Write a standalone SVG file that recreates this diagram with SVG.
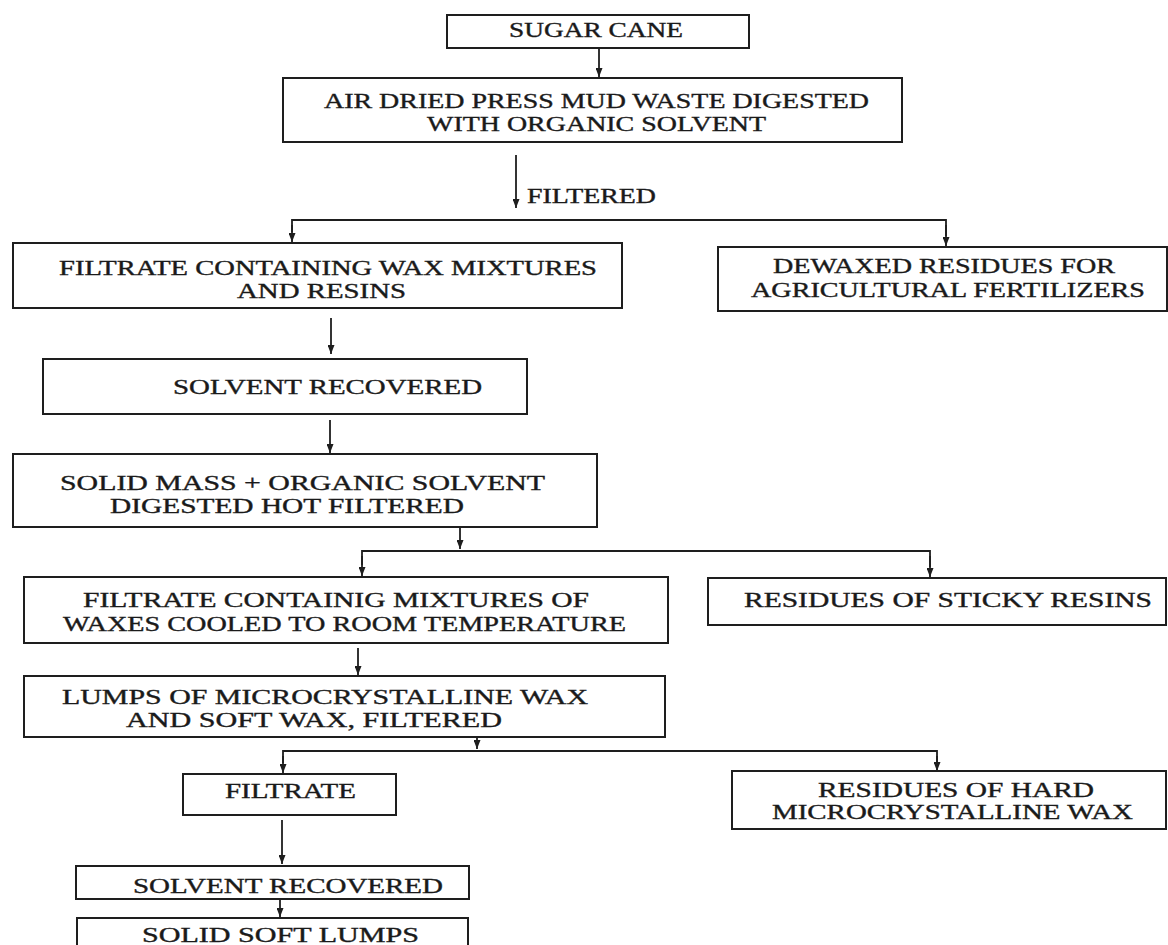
<svg xmlns="http://www.w3.org/2000/svg" width="1168" height="945" viewBox="0 0 1168 945">
<defs>
<style>
.box{fill:#fff;stroke:#1e1e1e;stroke-width:2}
.t{font-family:"Liberation Serif","Times New Roman",serif;font-size:20px;fill:#1a1a1a;stroke:#1a1a1a;stroke-width:0.35}
.c{stroke:#1e1e1e;stroke-width:1.8;fill:none}
</style>
<marker id="ah" markerUnits="userSpaceOnUse" viewBox="0 0 9 7" refX="9" refY="3.5" markerWidth="9" markerHeight="7" orient="auto">
<path d="M0,0 L9,3.5 L0,7 z" fill="#1e1e1e"/>
</marker>
</defs>
<rect width="1168" height="945" fill="#fff"/>

<g id="connectors">
<line class="c" x1="599" y1="49" x2="599" y2="77" marker-end="url(#ah)"/>
<line class="c" x1="516" y1="155" x2="516" y2="208" marker-end="url(#ah)"/>
<polyline class="c" points="292,232 292,220 946,220 946,236"/>
<line class="c" x1="292" y1="225" x2="292" y2="242" marker-end="url(#ah)"/>
<line class="c" x1="946" y1="225" x2="946" y2="246" marker-end="url(#ah)"/>
<line class="c" x1="331" y1="318" x2="331" y2="354" marker-end="url(#ah)"/>
<line class="c" x1="330" y1="420" x2="330" y2="453" marker-end="url(#ah)"/>
<line class="c" x1="460" y1="528" x2="460" y2="549" marker-end="url(#ah)"/>
<polyline class="c" points="362,565 362,551 930,551 930,567"/>
<line class="c" x1="362" y1="556" x2="362" y2="576" marker-end="url(#ah)"/>
<line class="c" x1="930" y1="556" x2="930" y2="577" marker-end="url(#ah)"/>
<line class="c" x1="358" y1="648" x2="358" y2="675" marker-end="url(#ah)"/>
<line class="c" x1="477" y1="738" x2="477" y2="749" marker-end="url(#ah)"/>
<polyline class="c" points="283,763 283,751 937,751 937,762"/>
<line class="c" x1="283" y1="756" x2="283" y2="773" marker-end="url(#ah)"/>
<line class="c" x1="937" y1="756" x2="937" y2="771" marker-end="url(#ah)"/>
<line class="c" x1="282" y1="820" x2="282" y2="864" marker-end="url(#ah)"/>
<line class="c" x1="280" y1="900" x2="280" y2="917" marker-end="url(#ah)"/>
<text class="t" x="527" y="203" textLength="129" lengthAdjust="spacingAndGlyphs">FILTERED</text>
</g>

<g id="n1">
<rect class="box" x="447" y="15" width="302" height="33"/>
<text class="t" x="509" y="37" textLength="174" lengthAdjust="spacingAndGlyphs">SUGAR CANE</text>
</g>

<g id="n2">
<rect class="box" x="283" y="78" width="619" height="64"/>
<text class="t" x="324" y="108" textLength="545" lengthAdjust="spacingAndGlyphs">AIR DRIED PRESS MUD WASTE DIGESTED</text>
<text class="t" x="427" y="131" textLength="339" lengthAdjust="spacingAndGlyphs">WITH ORGANIC SOLVENT</text>
</g>

<g id="n3">
<rect class="box" x="13" y="243" width="609" height="65"/>
<text class="t" x="59" y="275" textLength="538" lengthAdjust="spacingAndGlyphs">FILTRATE CONTAINING WAX MIXTURES</text>
<text class="t" x="237" y="298" textLength="169" lengthAdjust="spacingAndGlyphs">AND RESINS</text>
</g>

<g id="n4">
<rect class="box" x="718" y="247" width="449" height="64"/>
<text class="t" x="773" y="273" textLength="342" lengthAdjust="spacingAndGlyphs">DEWAXED RESIDUES FOR</text>
<text class="t" x="751" y="297" textLength="394" lengthAdjust="spacingAndGlyphs">AGRICULTURAL FERTILIZERS</text>
</g>

<g id="n5">
<rect class="box" x="43" y="359" width="484" height="55"/>
<text class="t" x="173" y="394" textLength="309" lengthAdjust="spacingAndGlyphs">SOLVENT RECOVERED</text>
</g>

<g id="n6">
<rect class="box" x="13" y="454" width="584" height="73"/>
<text class="t" x="60" y="490" textLength="485" lengthAdjust="spacingAndGlyphs">SOLID MASS + ORGANIC SOLVENT</text>
<text class="t" x="110" y="513" textLength="354" lengthAdjust="spacingAndGlyphs">DIGESTED HOT FILTERED</text>
</g>

<g id="n7">
<rect class="box" x="24" y="577" width="644" height="66"/>
<text class="t" x="83" y="607" textLength="506" lengthAdjust="spacingAndGlyphs">FILTRATE CONTAINIG MIXTURES OF</text>
<text class="t" x="63" y="631" textLength="563" lengthAdjust="spacingAndGlyphs">WAXES COOLED TO ROOM TEMPERATURE</text>
</g>

<g id="n8">
<rect class="box" x="708" y="578" width="458" height="47"/>
<text class="t" x="744" y="607" textLength="408" lengthAdjust="spacingAndGlyphs">RESIDUES OF STICKY RESINS</text>
</g>

<g id="n9">
<rect class="box" x="24" y="676" width="641" height="61"/>
<text class="t" x="62" y="704" textLength="526" lengthAdjust="spacingAndGlyphs">LUMPS OF MICROCRYSTALLINE WAX</text>
<text class="t" x="126" y="727" textLength="376" lengthAdjust="spacingAndGlyphs">AND SOFT WAX, FILTERED</text>
</g>

<g id="n10">
<rect class="box" x="183" y="774" width="213" height="41"/>
<text class="t" x="225" y="798" textLength="131" lengthAdjust="spacingAndGlyphs">FILTRATE</text>
</g>

<g id="n11">
<rect class="box" x="732" y="771" width="434" height="58"/>
<text class="t" x="818" y="797" textLength="276" lengthAdjust="spacingAndGlyphs">RESIDUES OF HARD</text>
<text class="t" x="772" y="819" textLength="361" lengthAdjust="spacingAndGlyphs">MICROCRYSTALLINE WAX</text>
</g>

<g id="n12">
<rect class="box" x="76" y="866" width="393" height="33"/>
<text class="t" x="133" y="893" textLength="310" lengthAdjust="spacingAndGlyphs">SOLVENT RECOVERED</text>
</g>

<g id="n13">
<rect class="box" x="77" y="918" width="391" height="60"/>
<text class="t" x="142" y="942" textLength="277" lengthAdjust="spacingAndGlyphs">SOLID SOFT LUMPS</text>
</g>
</svg>
